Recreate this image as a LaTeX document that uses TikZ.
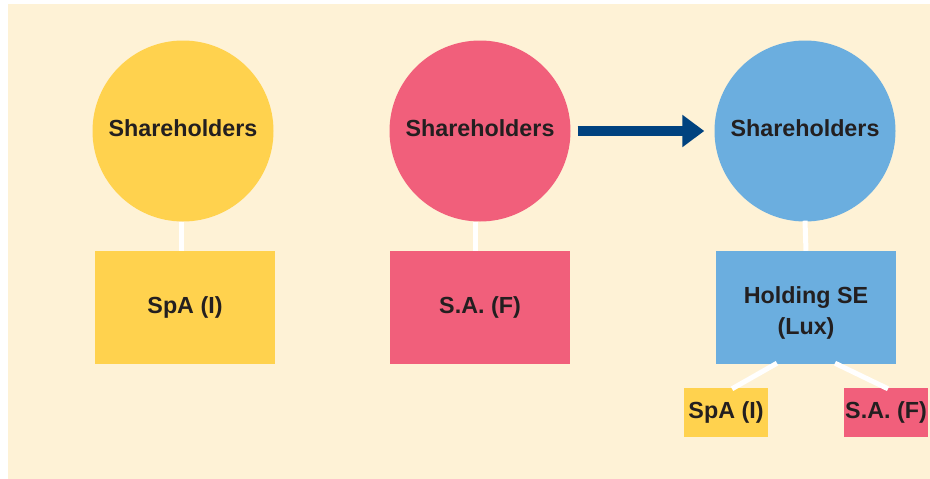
\documentclass[tikz,border=0pt]{standalone}
\usepackage{fontspec}
\setmainfont{Liberation Sans}
\usetikzlibrary{arrows.meta,calc}
\definecolor{paper}{HTML}{FEF2D6}
\definecolor{sunny}{HTML}{FFD24E}
\definecolor{rose}{HTML}{F15F7B}
\definecolor{sky}{HTML}{6BAEDF}
\definecolor{navy}{HTML}{00427F}
\definecolor{ink}{HTML}{231F20}
% move a label up or down inside its node without changing the node size
\newcommand{\nudgelabel}[2]{\raisebox{#1}[\height][\depth]{#2}}
\begin{document}
\begin{tikzpicture}[x=1pt,y=-1pt,
  lbl/.style={text=ink,font=\fontsize{23.3}{31}\selectfont\bfseries,inner sep=0pt,align=center},
  holders/.style={lbl,circle,minimum size=181pt},
  company/.style={lbl,rectangle,minimum width=180pt,minimum height=113pt},
  sub/.style={lbl,rectangle,minimum width=84pt,minimum height=49pt},
  link/.style={draw=white,line width=5pt},
  move/.style={draw=navy,line width=10pt,-{Triangle[length=22pt,width=31pt]},shorten <=7pt,shorten >=10pt}]
  % page and panel
  \fill[white] (0,0) rectangle (930,479);
  \useasboundingbox (0,0) rectangle (930,479);
  \fill[paper] (8,4) rectangle (930,479);

  % left group: Italian company
  \node[holders,fill=sunny] (shI) at (183,131) {\nudgelabel{3pt}{Shareholders}};
  \node[company,fill=sunny] (spa) at (185,307.5) {SpA (I)};
  % middle group: French company
  \node[holders,fill=rose] (shF) at (480,131) {\nudgelabel{3pt}{Shareholders}};
  \node[company,fill=rose] (sa) at (480,307.5) {S.A. (F)};
  % right group: holding structure
  \node[holders,fill=sky] (shH) at (805,131) {\nudgelabel{3pt}{Shareholders}};
  \node[company,fill=sky] (hold) at (806,307.5)
    {\nudgelabel{-5pt}{\begin{tabular}{@{}c@{}}Holding SE\\(Lux)\end{tabular}}};
  \node[sub,fill=sunny] (spaS) at (726,412.5) {SpA (I)};
  \node[sub,fill=rose] (saS) at (886,412.5) {S.A. (F)};

  % ownership links
  \draw[link] ($(shI.south)+(-1.5,0)$) -- ($(spa.north)+(-3.5,0)$);
  \draw[link] ($(shF.south)+(-5,0)$) -- ($(sa.north)+(-5,0)$);
  \draw[link] ($(shH.south)+(0,-1)$) -- (hold.north);
  \draw[link] ($(hold.south)+(-29,-1)$) -- ($(spaS.north)+(6,1)$);
  \draw[link] ($(hold.south)+(29,-1)$) -- ($(saS.north)+(2,1)$);

  % transfer of shareholders
  \draw[move] (shF.east) -- (shH.west);
\end{tikzpicture}
\end{document}
